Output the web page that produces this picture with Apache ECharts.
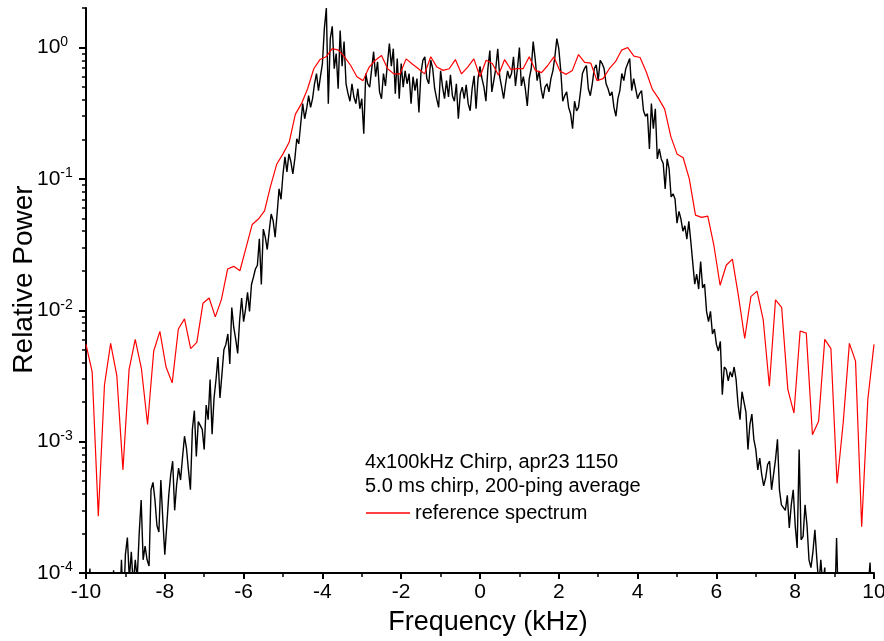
<!DOCTYPE html>
<html>
<head>
<meta charset="utf-8">
<script src="https://cdn.jsdelivr.net/npm/echarts@6/dist/echarts.min.js"></script>
<style>
html,body{margin:0;padding:0;background:#fff;}
#chart{width:884px;height:641px;}
</style>
</head>
<body>
<div id="chart"></div>
<script>
// ---- axis ticks ----
const xMin = -10, xMax = 10, xInterval = 2;
const yMin = 1e-4, yMax = 2;
const yMajorTicks = [1e-4, 1e-3, 1e-2, 1e-1, 1];
const yMinorTicks = [2e-4,3e-4,4e-4,5e-4,6e-4,7e-4,8e-4,9e-4,
                     2e-3,3e-3,4e-3,5e-3,6e-3,7e-3,8e-3,9e-3,
                     2e-2,3e-2,4e-2,5e-2,6e-2,7e-2,8e-2,9e-2,
                     0.2,0.3,0.4,0.5,0.6,0.7,0.8,0.9,2];

// ---- reference spectrum (red), sampled every 0.15625 kHz from -10 kHz ----
const refStart = -10, refStep = 0.15625;
const refPower = [
  5.5e-3,3.4e-3,2.7e-4,2.7e-3,5.6e-3,3.2e-3,6.1e-4,3.55e-3,6.0e-3,3.6e-3,
  1.35e-3,4.9e-3,6.9e-3,3.7e-3,2.8e-3,7.2e-3,8.6e-3,5.1e-3,5.7e-3,1.13e-2,
  1.24e-2,8.9e-3,1.21e-2,2.06e-2,2.16e-2,2.0e-2,3.0e-2,4.5e-2,4.95e-2,5.7e-2,
  8.9e-2,0.13,0.155,0.19,0.31,0.374,0.486,0.69,0.81,0.85,
  0.98,0.955,0.85,0.73,0.60,0.56,0.71,0.80,0.87,0.69,
  0.63,0.63,0.82,0.75,0.69,0.63,0.85,0.71,0.67,0.69,
  0.81,0.63,0.71,0.82,0.60,0.80,0.755,0.615,0.81,0.68,
  0.69,0.69,0.85,0.67,0.645,0.73,0.85,0.66,0.625,0.67,
  0.885,0.77,0.76,0.56,0.58,0.69,0.78,0.955,1.0,0.86,
  0.84,0.655,0.48,0.41,0.34,0.21,0.155,0.145,0.10,0.053,
  0.051,0.052,0.031,0.0155,0.022,0.0245,0.0127,0.0061,0.0127,0.014,
  0.0085,0.00264,0.012,0.0105,0.0025,0.00165,0.00695,0.0067,0.00113,0.00143,
  0.0060,0.0051,0.00048,0.0014,0.0056,0.0041,0.000225,0.0021,0.0055
];

// ---- measured spectrum (black), sampled every 0.05 kHz from -10 kHz ----
const measStart = -10, measStep = 0.05;
const measPower = [
  5e-5,5e-5,1.08e-4,5e-5,5e-5,5e-5,5e-5,5e-5,5e-5,5e-5,
  5e-5,5e-5,5e-5,5e-5,1.05e-4,5e-5,5e-5,5e-5,1.26e-4,5e-5,
  1.38e-4,1.86e-4,9e-5,1.45e-4,8e-5,1.26e-4,9e-5,2.0e-4,3.6e-4,1.26e-4,
  1.6e-4,1.26e-4,1.13e-4,4.3e-4,4.9e-4,3.6e-4,2.3e-4,2.05e-4,5.1e-4,2.54e-4,
  1.38e-4,2.3e-4,3.9e-4,5.6e-4,7.1e-4,3.0e-4,4.7e-4,6.3e-4,5.1e-4,7.6e-4,
  1.1e-3,8.9e-4,6.1e-4,4.3e-4,1.24e-3,1.72e-3,7.7e-4,1.42e-3,1.47e-3,1.24e-3,
  8.7e-4,1.9e-3,1.47e-3,2.97e-3,1.14e-3,2.15e-3,2.97e-3,4.4e-3,2.15e-3,3.25e-3,
  5.0e-3,5.5e-3,6.6e-3,3.9e-3,1.05e-2,7.4e-3,6.0e-3,4.7e-3,8.5e-3,1.24e-2,
  8.2e-3,1.02e-2,1.37e-2,9.8e-3,1.57e-2,1.79e-2,2.06e-2,2.2e-2,3.5e-2,1.57e-2,
  4.15e-2,3.6e-2,2.9e-2,4.0e-2,5.4e-2,4.8e-2,3.6e-2,5.4e-2,8.4e-2,7.0e-2,
  0.109,0.147,0.113,0.155,0.135,0.109,0.142,0.202,0.185,0.263,
  0.374,0.287,0.342,0.43,0.35,0.408,0.53,0.634,0.47,0.60,
  0.755,1.40,2.0,0.374,1.17,1.45,0.69,0.90,0.486,1.35,
  0.72,1.11,0.53,0.446,0.39,0.53,0.42,0.374,0.486,0.342,
  0.408,0.221,0.634,0.53,0.50,0.486,0.93,0.60,0.78,0.46,
  0.408,0.634,0.51,0.755,1.07,0.72,0.98,0.446,0.824,0.408,
  0.755,0.50,0.665,0.53,0.634,0.374,0.60,0.47,0.58,0.32,
  0.634,0.80,0.85,0.58,0.53,0.80,0.69,0.486,0.408,0.35,
  0.665,0.50,0.408,0.56,0.42,0.62,0.43,0.39,0.53,0.287,
  0.446,0.50,0.408,0.52,0.374,0.33,0.486,0.61,0.342,0.58,
  0.72,0.58,0.50,0.39,0.69,0.95,0.46,0.56,0.69,0.98,
  0.60,0.50,0.408,0.53,0.665,0.58,0.634,0.85,0.51,0.69,
  1.0,0.51,0.60,0.486,0.36,0.58,0.69,1.11,0.824,0.56,
  0.665,0.486,0.408,0.50,0.53,0.46,0.58,0.665,0.85,1.17,
  0.98,0.665,0.39,0.43,0.46,0.35,0.313,0.241,0.39,0.33,
  0.35,0.46,0.634,0.69,0.73,0.486,0.43,0.53,0.69,0.74,
  0.56,0.80,0.755,0.69,0.53,0.486,0.43,0.46,0.35,0.30,
  0.408,0.47,0.634,0.56,0.69,0.755,0.824,0.47,0.58,0.486,
  0.408,0.446,0.47,0.33,0.30,0.313,0.169,0.374,0.241,0.342,
  0.142,0.169,0.142,0.131,0.084,0.142,0.119,0.073,0.077,0.0703,
  0.046,0.0565,0.0495,0.040,0.044,0.0348,0.0475,0.0335,0.0335,0.0158,
  0.0188,0.0145,0.0235,0.0148,0.0158,0.0098,0.0082,0.0098,0.0066,0.0072,
  0.0055,0.0049,0.0058,0.00228,0.0037,0.00355,0.0029,0.0034,0.0031,0.0037,
  0.00297,0.0019,0.00147,0.0024,0.002,0.00168,8.7e-4,0.00135,0.00162,0.00104,
  8.7e-4,6.1e-4,7.5e-4,5.6e-4,4.6e-4,5.3e-4,6.7e-4,7.1e-4,4.3e-4,5.6e-4,
  7.3e-4,1.04e-3,4.3e-4,3.3e-4,3.3e-4,3.0e-4,3.9e-4,2.2e-4,3.3e-4,4.3e-4,
  2.3e-4,1.55e-4,8.7e-4,1.79e-4,1.9e-4,3.3e-4,2.3e-4,1.26e-4,1.1e-4,1.45e-4,
  2.13e-4,1.26e-4,8e-5,1.26e-4,8e-5,1.1e-4,5e-5,5e-5,5e-5,5e-5,
  5e-5,1.85e-4,5e-5,5e-5,5e-5,5e-5,5e-5,5e-5,5e-5,5e-5,
  5e-5,5e-5,5e-5,5e-5,5e-5,5e-5,5e-5,5e-5,1.2e-4,5e-5,5e-5
];

// ---- texts ----
const xAxisTitle = 'Frequency (kHz)';
const yAxisTitle = 'Relative Power';
const noteLines = ['4x100kHz Chirp, apr23 1150', '5.0 ms chirp, 200-ping average'];
const refName = 'reference spectrum';

const FONT = '"Liberation Sans", Arial, sans-serif';

const measData = measPower.map((v, i) => [measStart + i * measStep, v]);
const refData = refPower.map((v, i) => [refStart + i * refStep, v]);

const chart = echarts.init(document.getElementById('chart'), null, {renderer: 'canvas'});
chart.setOption({
  animation: false,
  backgroundColor: '#ffffff',
  grid: {left: 86, right: 10, top: 8, bottom: 68, containLabel: false, outerBoundsMode: 'none'},
  xAxis: {
    type: 'value', min: xMin, max: xMax, interval: xInterval,
    name: xAxisTitle, nameLocation: 'middle', nameGap: 36, nameMoveOverlap: false,
    nameTextStyle: {fontFamily: FONT, fontSize: 27, color: '#000', padding: [0, 0, 0, 16]},
    axisLine: {show: true, onZero: false, lineStyle: {color: '#000', width: 2}},
    axisTick: {show: true, inside: false, length: 6, lineStyle: {color: '#000', width: 2}},
    minorTick: {show: true, splitNumber: 2, length: 4, lineStyle: {color: '#000', width: 1.5}},
    axisLabel: {fontFamily: FONT, fontSize: 21, color: '#000', margin: 9},
    splitLine: {show: false}, minorSplitLine: {show: false}
  },
  yAxis: [{
    type: 'log', logBase: 10, min: yMin, max: yMax,
    name: yAxisTitle, nameLocation: 'middle', nameGap: 48, nameMoveOverlap: false,
    nameTextStyle: {fontFamily: FONT, fontSize: 28, color: '#000', padding: [0, 0, 0, 22]},
    axisLine: {show: true, onZero: false, lineStyle: {color: '#000', width: 2}},
    axisTick: {show: true, inside: false, length: 7, customValues: yMajorTicks,
               lineStyle: {color: '#000', width: 2}},
    axisLabel: {
      customValues: yMajorTicks, align: 'left', margin: 49, color: '#000',
      formatter: function (v) {
        const e = Math.round(Math.log10(v));
        return '{b|10}{s|' + e + '}';
      },
      rich: {
        b: {fontFamily: FONT, fontSize: 21, color: '#000'},
        s: {fontFamily: FONT, fontSize: 14, color: '#000', padding: [0, 0, 11, 0]}
      }
    },
    splitLine: {show: false}
  }, {
    type: 'log', logBase: 10, min: yMin, max: yMax, position: 'left', offset: 0,
    axisLine: {show: false, onZero: false},
    axisTick: {show: true, inside: false, length: 4, customValues: yMinorTicks,
               lineStyle: {color: '#000', width: 1.5}},
    axisLabel: {show: false},
    splitLine: {show: false}
  }],
  legend: {
    show: true, data: [{name: refName, icon: 'rect'}], left: 366, top: 503, padding: 0,
    itemWidth: 44, itemHeight: 1.4, itemGap: 6,
    textStyle: {fontFamily: FONT, fontSize: 20, color: '#000'}
  },
  graphic: [
    {type: 'text', x: 365, y: 462, silent: true,
     style: {text: noteLines[0], fontFamily: FONT, fontSize: 20, fill: '#000', verticalAlign: 'middle'}},
    {type: 'text', x: 365, y: 486, silent: true,
     style: {text: noteLines[1], fontFamily: FONT, fontSize: 20, fill: '#000', verticalAlign: 'middle'}}
  ],
  series: [{
    name: 'measured', type: 'line', data: measData, xAxisIndex: 0, yAxisIndex: 0,
    symbol: 'none', clip: true, lineStyle: {color: '#000', width: 1.4}, z: 2
  }, {
    name: refName, type: 'line', data: refData, xAxisIndex: 0, yAxisIndex: 0,
    symbol: 'none', clip: true, lineStyle: {color: '#ff0000', width: 1.2},
    itemStyle: {color: '#ff0000'}, z: 3
  }]
});
</script>
</body>
</html>
